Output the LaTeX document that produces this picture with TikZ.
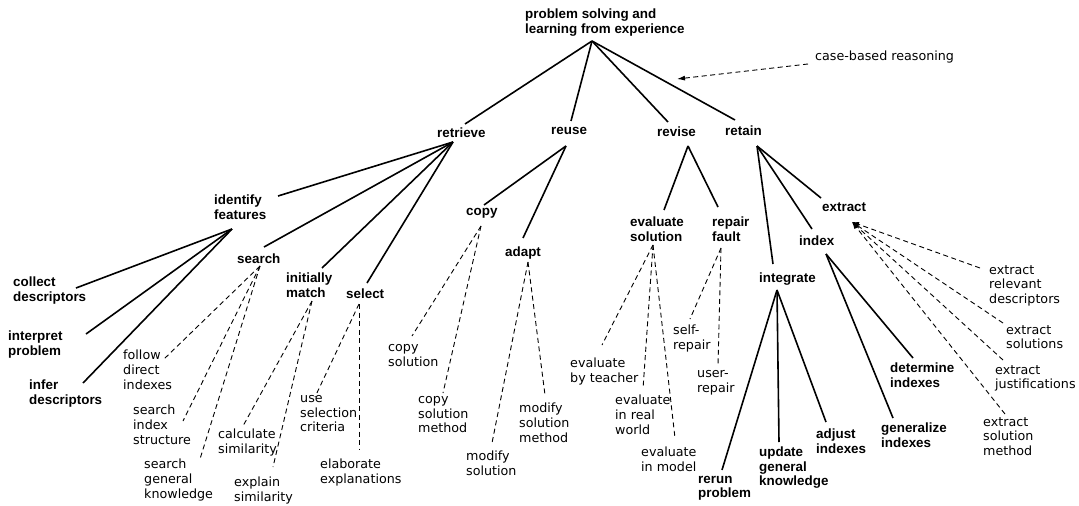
\documentclass[tikz,border=0pt]{standalone}
\usepackage{fontspec}
\setmainfont{Liberation Sans}
\newfontfamily\methfont{DejaVu Sans}
\usetikzlibrary{arrows.meta, calc}

\tikzset{
  task/.style={font=\fontsize{13.4}{14.2}\selectfont\bfseries, align=left, inner sep=0pt, anchor=north west, yshift=-1pt},
  method/.style={font=\methfont\fontsize{12.7}{14.8}\selectfont, align=left, inner sep=0pt, anchor=north west, yshift=-1pt},
  link/.style={line width=1.6pt},
  alt/.style={line width=0.9pt, dash pattern=on 5pt off 3.5pt},
}

\begin{document}
\begin{tikzpicture}[x=1pt, y=-1pt]
    \useasboundingbox (0,0) rectangle (1079,506);

    % task nodes
    \node[task] (root) at (525, 8) {problem solving and\\learning from experience};
    \node[method] (cbr) at (815, 50) {case-based reasoning};
    \node[task] (retrieve) at (437, 127) {retrieve};
    \node[task] (reuse) at (551, 126) {reuse};
    \node[task] (revise) at (657, 126) {revise};
    \node[task] (retain) at (725, 125) {retain};

    \node[task] (identify) at (214, 194) {identify\\features};
    \node[task] (search) at (237, 253) {search};
    \node[task] (match) at (286, 272) {initially\\match};
    \node[task] (select) at (346, 288) {select};
    \node[task] (collect) at (13, 276) {collect\\descriptors};
    \node[task] (interpret) at (8, 330) {interpret\\problem};
    \node[task] (infer) at (29, 379) {infer\\descriptors};

    \node[task] (copy) at (466, 207) {copy};
    \node[task] (adapt) at (505, 246) {adapt};
    \node[task] (evaluate) at (630, 216) {evaluate\\solution};
    \node[task] (repair) at (712, 216) {repair\\fault};

    \node[task] (integrate) at (759, 272) {integrate};
    \node[task] (index) at (799, 235) {index};
    \node[task] (extract) at (822, 202) {extract};
    \node[task] (rerun) at (698, 475) {rerun\\problem};
    \node[task] (update) at (759, 446) {update\\general\\knowledge};
    \node[task] (adjust) at (816, 428) {adjust\\indexes};
    \node[task] (determine) at (890, 362) {determine\\indexes};
    \node[task] (generalize) at (881, 422) {generalize\\indexes};

    % method nodes
    \node[method] (follow) at (123, 349) {follow\\direct\\indexes};
    \node[method] (sindex) at (133, 404) {search\\index\\structure};
    \node[method] (sgeneral) at (144, 458) {search\\general\\knowledge};
    \node[method] (calc) at (218, 428) {calculate\\similarity};
    \node[method] (explain) at (234, 476) {explain\\similarity};
    \node[method] (use) at (300, 394) {use\\selection\\criteria};
    \node[method] (elaborate) at (320, 458) {elaborate\\explanations};
    \node[method] (copysol) at (388, 343) {copy\\solution};
    \node[method] (copymeth) at (418, 395) {copy\\solution\\method};
    \node[method] (modsol) at (466, 450) {modify\\solution};
    \node[method] (modmeth) at (519, 402) {modify\\solution\\method};
    \node[method] (teacher) at (570, 357) {evaluate\\by teacher};
    \node[method] (real) at (615, 394) {evaluate\\in real\\world};
    \node[method] (model) at (641, 446) {evaluate\\in model};
    \node[method] (self) at (673, 324) {self-\\repair};
    \node[method] (user) at (697, 369) {user-\\repair};
    \node[method] (relevant) at (989, 264) {extract\\relevant\\descriptors};
    \node[method] (solutions) at (1006, 324) {extract\\solutions};
    \node[method] (justif) at (995, 364) {extract\\justifications};
    \node[method] (extmeth) at (983, 416) {extract\\solution\\method};

    % branch points below the parents
    \coordinate (root-b) at (592, 41);
    \coordinate (retrieve-b) at (453, 142);
    \coordinate (reuse-b) at (566, 146);
    \coordinate (revise-b) at (688, 146);
    \coordinate (retain-b) at (757, 146);
    \coordinate (identify-b) at (232, 229);
    \coordinate (search-b) at (260, 266);
    \coordinate (match-b) at (312, 301);
    \coordinate (select-b) at (359, 304);
    \coordinate (copy-b) at (481, 226);
    \coordinate (adapt-b) at (528, 262);
    \coordinate (evaluate-b) at (653, 245);
    \coordinate (repair-b) at (721, 248);
    \coordinate (integrate-b) at (777, 290);
    \coordinate (index-b) at (826, 254);
    \coordinate (extract-b) at (852, 222);

    % end points above the children
    \coordinate (retrieve-t) at (465, 124);
    \coordinate (reuse-t) at (571, 121);
    \coordinate (revise-t) at (668, 122);
    \coordinate (retain-t) at (735, 120);
    \coordinate (identify-t) at (278, 196);
    \coordinate (search-t) at (264, 247);
    \coordinate (match-t) at (322, 268);
    \coordinate (select-t) at (367, 283);
    \coordinate (collect-t) at (76, 288);
    \coordinate (interpret-t) at (86, 334);
    \coordinate (infer-t) at (83, 383);
    \coordinate (follow-t) at (163, 360);
    \coordinate (sindex-t) at (183, 421);
    \coordinate (sgeneral-t) at (200, 459);
    \coordinate (calc-t) at (243, 426);
    \coordinate (explain-t) at (273, 467);
    \coordinate (use-t) at (315, 397);
    \coordinate (elaborate-t) at (359, 450);
    \coordinate (copy-t) at (484, 205);
    \coordinate (adapt-t) at (523, 238);
    \coordinate (copysol-t) at (412, 336);
    \coordinate (copymeth-t) at (443, 393);
    \coordinate (modsol-t) at (492, 443);
    \coordinate (modmeth-t) at (545, 395);
    \coordinate (evaluate-t) at (664, 210);
    \coordinate (repair-t) at (718, 207);
    \coordinate (teacher-t) at (602, 345);
    \coordinate (real-t) at (643, 389);
    \coordinate (model-t) at (675, 438);
    \coordinate (self-t) at (690, 319);
    \coordinate (user-t) at (718, 365);
    \coordinate (integrate-t) at (773, 264);
    \coordinate (index-t) at (812, 229);
    \coordinate (extract-t) at (821, 198);
    \coordinate (rerun-t) at (722, 470);
    \coordinate (update-t) at (779, 442);
    \coordinate (adjust-t) at (826, 422);
    \coordinate (determine-t) at (913, 358);
    \coordinate (generalize-t) at (893, 418);
    \coordinate (relevant-t) at (980, 268);
    \coordinate (solutions-t) at (1003, 323);
    \coordinate (justif-t) at (1003, 360);
    \coordinate (extmeth-t) at (1005, 414);
    \coordinate (cbr-t) at (808, 64);
    \coordinate (cbr-h) at (677, 79);

    % task decomposition
    \foreach \p/\c in {root/retrieve, root/reuse, root/revise, root/retain,
        retrieve/identify, retrieve/search, retrieve/match, retrieve/select,
        identify/collect, identify/interpret, identify/infer,
        reuse/copy, reuse/adapt, revise/evaluate, revise/repair,
        retain/integrate, retain/index, retain/extract,
        integrate/rerun, integrate/update, integrate/adjust,
        index/determine, index/generalize}
      \draw[link] (\p-b) -- (\c-t);

    % methods
    \foreach \p/\c in {search/follow, search/sindex, search/sgeneral,
        match/calc, match/explain, select/use, select/elaborate,
        copy/copysol, copy/copymeth, adapt/modsol, adapt/modmeth,
        evaluate/teacher, evaluate/real, evaluate/model,
        repair/self, repair/user}
      \draw[alt] (\p-b) -- (\c-t);
    \foreach \c in {relevant, solutions, justif, extmeth}
      \draw[alt, -{Latex[length=7pt, width=5pt]}] (\c-t) -- (extract-b);

    \draw[alt, -{Latex[length=8pt, width=5pt]}] (cbr-t) -- (cbr-h);
  \end{tikzpicture}
\end{document}
